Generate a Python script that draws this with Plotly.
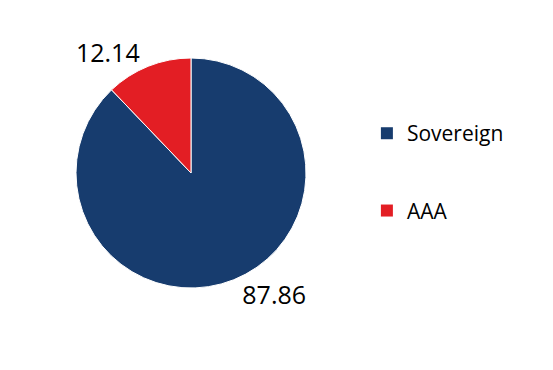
import plotly.graph_objects as go

categories = ["Sovereign", "AAA"]
values = [87.86, 12.14]
colors = ["#173C6E", "#E31E24"]

W, H = 553, 370
fig = go.Figure()
fig.add_trace(go.Pie(
    labels=categories, values=values, sort=False, direction="clockwise", rotation=0,
    marker=dict(colors=colors, line=dict(color="white", width=1)),
    textinfo="value", textposition="outside", texttemplate="%{value:.2f}",
    textfont=dict(size=25, color="black", family="Open Sans"),
    showlegend=False, hoverinfo="label+value",
    domain=dict(x=[68 / W, 298 / W], y=[1 - 280 / H, 1 - 50 / H]),
))
for i, (c, col) in enumerate(zip(categories, colors)):
    fig.add_trace(go.Scatter(
        x=[None], y=[None], mode="markers", name=c, legendgroup=c,
        marker=dict(symbol="square", size=12, color=col),
    ))

fig.update_layout(
    width=W, height=H, margin=dict(l=0, r=0, t=0, b=0),
    paper_bgcolor="white", plot_bgcolor="white",
    xaxis=dict(visible=False), yaxis=dict(visible=False),
    font=dict(family="Open Sans", size=21, color="black"),
    legend=dict(x=0.649, y=0.716, xanchor="left", yanchor="top",
                tracegroupgap=47, itemwidth=30, font=dict(size=21)),
)
fig.write_html("out.html")
